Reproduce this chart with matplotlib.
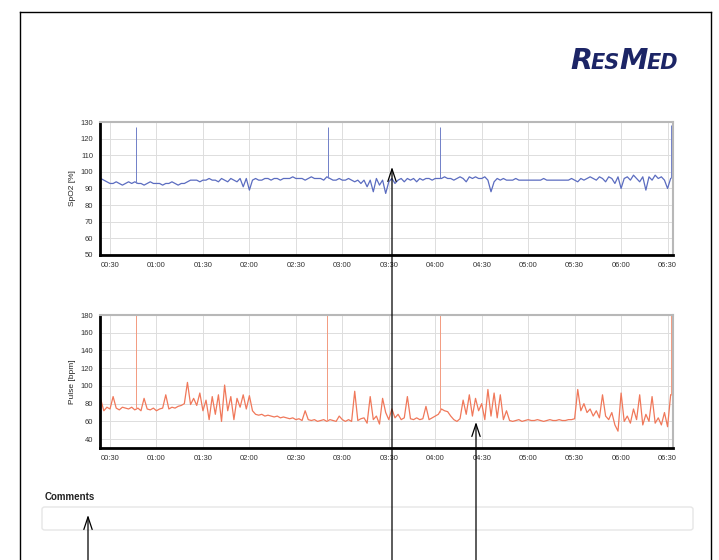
import numpy as np
import matplotlib
matplotlib.use('Agg')
from matplotlib import pyplot as plt
from matplotlib.lines import Line2D
from matplotlib.patches import FancyBboxPatch

plt.rcParams['font.family'] = ['Liberation Sans', 'DejaVu Sans']

# sample times in minutes after midnight, one every 2 minutes
minutes = np.arange(24, 393, 2)

spo2 = [96, 95, 94, 93, 93, 94, 93, 92, 93, 94,
        93, 94, 93, 93, 92, 93, 94, 93, 93, 93,
        92, 93, 93, 94, 93, 92, 93, 93, 94, 95,
        95, 95, 94, 95, 95, 96, 95, 95, 94, 96,
        95, 94, 96, 95, 94, 96, 91, 96, 89, 95,
        96, 95, 95, 96, 96, 95, 96, 96, 95, 96,
        96, 96, 97, 96, 96, 96, 95, 96, 97, 96,
        96, 96, 95, 97, 96, 95, 95, 96, 95, 95,
        96, 95, 94, 95, 93, 95, 91, 95, 88, 96,
        92, 95, 87, 94, 96, 93, 95, 96, 94, 96,
        95, 96, 94, 96, 95, 96, 96, 95, 96, 96,
        96, 97, 96, 96, 95, 96, 97, 96, 94, 97,
        96, 97, 96, 96, 97, 95, 88, 94, 96, 95,
        96, 95, 95, 95, 96, 95, 95, 95, 95, 95,
        95, 95, 95, 96, 95, 95, 95, 95, 95, 95,
        95, 95, 96, 95, 94, 96, 95, 96, 97, 96,
        95, 97, 96, 94, 97, 96, 93, 97, 90, 96,
        97, 95, 98, 96, 94, 97, 89, 97, 95, 98,
        96, 97, 95, 90, 96]

pulse = [85, 72, 76, 74, 88, 75, 73, 76, 75, 74,
         76, 73, 75, 72, 86, 74, 73, 75, 72, 74,
         75, 90, 74, 76, 75, 77, 78, 80, 104, 79,
         86, 78, 92, 72, 84, 62, 88, 68, 90, 60,
         101, 72, 88, 62, 86, 76, 90, 74, 89, 72,
         68, 67, 68, 66, 67, 66, 65, 66, 64, 65,
         64, 63, 64, 62, 63, 61, 72, 62, 61, 62,
         60, 61, 62, 60, 62, 61, 60, 66, 62, 60,
         62, 60, 94, 61, 63, 64, 58, 88, 62, 66,
         57, 86, 70, 62, 74, 64, 68, 62, 64, 88,
         63, 62, 64, 62, 63, 77, 62, 64, 66, 68,
         74, 72, 71, 66, 62, 60, 63, 84, 68, 90,
         66, 86, 72, 80, 62, 96, 66, 92, 64, 90,
         62, 72, 61, 60, 61, 62, 60, 61, 62, 61,
         61, 62, 61, 60, 61, 62, 61, 61, 62, 61,
         61, 62, 62, 63, 96, 72, 80, 70, 74, 66,
         72, 64, 90, 66, 62, 70, 56, 49, 92, 60,
         66, 58, 74, 62, 90, 56, 68, 60, 88, 58,
         64, 56, 70, 54, 90]

# short artefact spikes
spo2_spike_times = [47, 171, 243, 392]
spo2_spike_tops = [127, 127, 127, 128]
pulse_spike_times = [47, 170, 243, 392]
pulse_spike_tops = [180, 180, 180, 180]

tick_minutes = list(range(30, 391, 30))
tick_labels = ['00:30', '01:00', '01:30', '02:00', '02:30', '03:00', '03:30',
               '04:00', '04:30', '05:00', '05:30', '06:00', '06:30']


def style_axes(ax, yticks, ylabel):
    ax.set_xlim(23.5, 393.5)
    ax.set_xticks(tick_minutes)
    ax.set_xticklabels(tick_labels)
    ax.set_yticks(yticks)
    ax.set_ylabel(ylabel, fontsize=6, color='#222222', labelpad=3)
    ax.grid(True, color='#dddddd', lw=0.7)
    ax.set_axisbelow(True)
    ax.tick_params(length=0, labelsize=5.5, labelcolor='#333333', pad=5)
    for side in ['left', 'bottom']:
        ax.spines[side].set_color('black')
        ax.spines[side].set_linewidth(2)
    for side in ['top', 'right']:
        ax.spines[side].set_color('#b8b8b8')
        ax.spines[side].set_linewidth(1.5)


fig = plt.figure(figsize=(7.19, 5.60), dpi=100)
fig.patch.set_facecolor('white')

ax1 = fig.add_axes([0.139, 0.545, 0.797, 0.237])
ax1.plot(minutes, spo2, color='#5b6cc0', lw=0.9)
base = np.interp(spo2_spike_times, minutes, spo2)
ax1.vlines(spo2_spike_times, base, spo2_spike_tops, color='#7080c8', lw=0.7)
ax1.set_ylim(50, 130)
style_axes(ax1, range(50, 131, 10), 'SpO2 [%]')

ax2 = fig.add_axes([0.139, 0.2, 0.797, 0.2375])
ax2.plot(minutes, pulse, color='#f0785a', lw=0.9)
base = np.interp(pulse_spike_times, minutes, pulse)
ax2.vlines(pulse_spike_times, base, pulse_spike_tops, color='#f39a80', lw=0.7)
ax2.set_ylim(30, 180)
style_axes(ax2, range(40, 181, 20), 'Pulse [bpm]')

# page frame
fig.add_artist(Line2D([0.028, 0.028], [0, 0.979], color='black', lw=1))
fig.add_artist(Line2D([0.989, 0.989], [0, 0.979], color='black', lw=1))
fig.add_artist(Line2D([0.028, 0.989], [0.979, 0.979], color='black', lw=1))

# logo, written in small caps
fig.canvas.draw()
renderer = fig.canvas.get_renderer()
x = 570
for part, size in [('R', 20.5), ('ES', 15), ('M', 20.5), ('ED', 15)]:
    t = fig.text(x / 719, 1 - 69 / 560, part, fontsize=size, fontweight='bold',
                 fontstyle='italic', family='DejaVu Sans', color='#1c2566',
                 va='baseline', ha='left')
    x += t.get_window_extent(renderer).width - 1

fig.text(45 / 719, 1 - 500 / 560, 'Comments', fontsize=7, fontweight='bold',
         color='#222222', va='baseline')
box = FancyBboxPatch((42 / 719, 1 - 530 / 560), 651 / 719, 23 / 560,
                     boxstyle='round,pad=0,rounding_size=0.004',
                     transform=fig.transFigure, facecolor='white',
                     edgecolor='#e6e6e6', lw=1)
fig.add_artist(box)

# pointer arrows coming up from the bottom of the page
for tip_x, tip_y in [(88, 515), (392, 167), (476, 422)]:
    fig.add_artist(plt.Annotation('', xy=(tip_x, 560 - tip_y), xytext=(tip_x, 0),
                                  xycoords='figure pixels', textcoords='figure pixels',
                                  arrowprops=dict(arrowstyle='->,head_length=0.9,head_width=0.3',
                                                  color='black', lw=0.9,
                                                  shrinkA=0, shrinkB=0)))

fig.savefig('out.png', dpi=100)
